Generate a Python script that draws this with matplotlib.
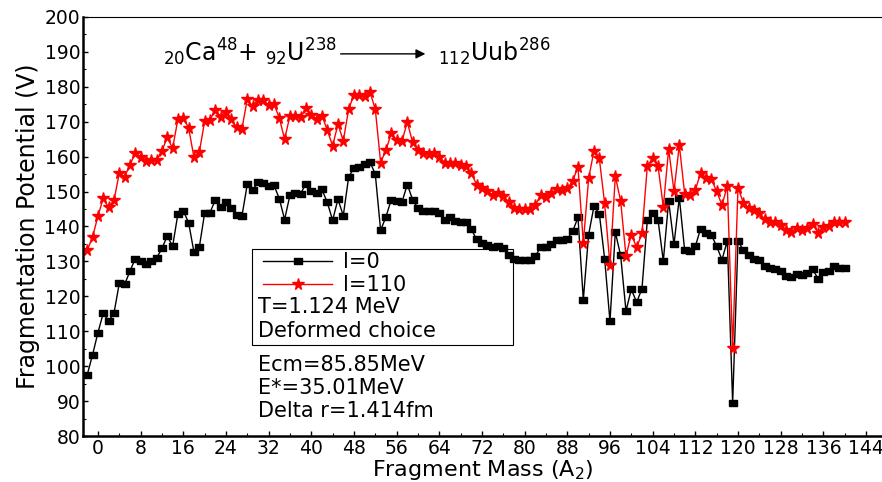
import numpy as np
import matplotlib
matplotlib.use("Agg")
import matplotlib.pyplot as plt
from matplotlib.patches import Rectangle
from matplotlib.ticker import MultipleLocator

plt.rcParams['font.family'] = ['DejaVu Sans']
plt.rcParams['mathtext.default'] = 'regular'

# fragment mass A2 = -2 ... 140
mass = np.arange(-2, 141)

# l = 0
v_l0 = [97.6, 103.3, 109.6, 115.2, 112.9, 115.1, 123.7, 123.4, 127.2, 130.8,
        130.1, 129.4, 130.2, 131.0, 133.7, 137.3, 134.3, 143.7, 144.5, 141.1,
        132.7, 134.0, 143.8, 144.0, 147.5, 145.7, 147.1, 145.3, 143.2, 143.0,
        152.1, 150.4, 152.7, 152.5, 151.6, 151.8, 148.0, 142.0, 149.0, 149.5,
        149.4, 152.3, 150.2, 149.5, 150.6, 146.9, 141.8, 147.8, 143.1, 154.1,
        156.8, 157.1, 157.9, 158.5, 155.0, 138.9, 142.8, 147.7, 147.3, 147.0,
        152.0, 147.7, 145.2, 144.5, 144.3, 144.3, 143.8, 142.0, 142.6, 141.5,
        141.3, 141.3, 139.2, 136.3, 135.4, 134.8, 134.1, 134.4, 133.8, 131.9,
        130.8, 130.3, 130.3, 130.3, 131.5, 134.1, 134.1, 135.1, 136.1, 136.1,
        136.5, 138.6, 142.6, 119.0, 137.7, 145.8, 143.7, 130.8, 112.8, 138.4,
        131.7, 115.8, 122.0, 118.3, 122.2, 141.8, 144.0, 142.0, 130.1, 147.3,
        134.9, 148.3, 133.2, 132.9, 134.3, 139.4, 138.0, 137.7, 134.3, 130.5,
        135.9, 89.4, 135.9, 133.2, 131.7, 130.8, 130.3, 128.6, 128.1, 127.7,
        127.2, 125.8, 125.5, 126.3, 126.0, 126.8, 127.7, 125.1, 127.0, 127.2,
        128.6, 128.2, 128.2]

# l = 110
v_l110 = [133.2, 137.0, 143.0, 148.1, 145.5, 147.5, 155.2, 154.3, 157.6, 161.1,
          160.0, 158.8, 159.0, 159.0, 161.7, 165.5, 162.4, 170.8, 171.0, 168.3,
          159.8, 161.2, 170.1, 170.5, 173.5, 171.5, 172.9, 170.7, 168.4, 168.0,
          176.5, 174.4, 176.3, 176.1, 174.8, 175.1, 171.1, 165.0, 171.7, 171.7,
          171.3, 173.9, 172.0, 170.7, 171.7, 167.6, 163.1, 169.3, 164.5, 173.6,
          177.7, 177.7, 177.4, 178.5, 173.6, 158.3, 161.9, 166.7, 164.8, 164.4,
          169.9, 164.1, 161.9, 161.0, 160.8, 161.0, 160.0, 158.3, 158.3, 158.1,
          157.6, 157.3, 155.2, 152.0, 150.9, 150.1, 149.0, 149.6, 148.7, 147.1,
          145.3, 144.9, 144.9, 144.9, 146.1, 149.0, 148.5, 149.6, 150.6, 150.4,
          150.9, 153.0, 157.1, 135.3, 153.8, 161.7, 159.5, 146.6, 128.9, 154.4,
          147.3, 131.5, 137.7, 134.0, 138.0, 157.3, 159.5, 157.4, 145.6, 162.2,
          150.1, 163.3, 149.4, 149.0, 150.4, 155.4, 153.8, 153.5, 150.1, 146.1,
          151.6, 105.1, 151.1, 146.8, 145.4, 144.7, 143.9, 142.1, 141.3, 141.3,
          140.4, 138.9, 138.4, 139.6, 138.9, 139.7, 140.8, 138.2, 139.9, 140.1,
          141.3, 141.3, 141.3]

x_ticks = np.arange(0, 145, 8)

fig = plt.figure(figsize=(8.82, 4.82), dpi=100)
ax = fig.add_axes([83 / 882, 46 / 482, 799 / 882, 419 / 482])

# wide rectangle marker for l=0
rect = [(-1.4, -1), (1.4, -1), (1.4, 1), (-1.4, 1), (-1.4, -1)]
ax.plot(mass, v_l0, color='black', lw=1.0, marker=rect, ms=6, label='l=0')
ax.plot(mass, v_l110, color='red', lw=1.0, marker='*', ms=8.5, label='l=110')

ax.set_xlim(-2.8, 147.0)
ax.set_ylim(80, 200)
ax.set_xticks(x_ticks)
ax.xaxis.set_minor_locator(MultipleLocator(4))
ax.yaxis.set_major_locator(MultipleLocator(10))
ax.yaxis.set_minor_locator(MultipleLocator(5))
ax.tick_params(which='major', direction='in', length=3.5, width=1, labelsize=13.5, pad=2)
ax.tick_params(which='minor', direction='in', length=2, width=0.8)

ax.spines['right'].set_visible(False)
ax.spines['left'].set_linewidth(1.8)
ax.spines['bottom'].set_linewidth(1.8)
ax.spines['top'].set_linewidth(0.8)

ax.set_xlabel('Fragment Mass (A$_2$)', fontsize=16, labelpad=0)
ax.set_ylabel('Fragmentation Potential (V)', fontsize=17, labelpad=3)

# reaction
ax.text(0.10, 0.893, r'$_{20}$Ca$^{48}$+ $_{92}$U$^{238}$', transform=ax.transAxes,
        fontsize=17, va='baseline', ha='left')
ax.annotate('', xy=(0.432, 0.912), xytext=(0.319, 0.912), xycoords='axes fraction',
            arrowprops=dict(arrowstyle='-|>', color='black', lw=1, mutation_scale=14))
ax.text(0.444, 0.893, r'$_{112}$Uub$^{286}$', transform=ax.transAxes,
        fontsize=17, va='baseline', ha='left')

# legend box
ax.add_patch(Rectangle((0.2115, 0.217), 0.3265, 0.229, transform=ax.transAxes,
                       fill=False, edgecolor='black', lw=0.8))
ax.legend(loc='upper left', bbox_to_anchor=(0.205, 0.478), frameon=False,
          fontsize=15, handlelength=3.3, handletextpad=0.5, numpoints=1,
          labelspacing=0.12, borderpad=0.3)
ax.text(0.219, 0.308, 'T=1.124 MeV', transform=ax.transAxes, fontsize=15, va='center')
ax.text(0.219, 0.251, 'Deformed choice', transform=ax.transAxes, fontsize=15, va='center')

ax.text(0.219, 0.169, 'Ecm=85.85MeV', transform=ax.transAxes, fontsize=15, va='center')
ax.text(0.219, 0.115, 'E*=35.01MeV', transform=ax.transAxes, fontsize=15, va='center')
ax.text(0.219, 0.060, 'Delta r=1.414fm', transform=ax.transAxes, fontsize=15, va='center')

fig.savefig('out.png', dpi=100)
